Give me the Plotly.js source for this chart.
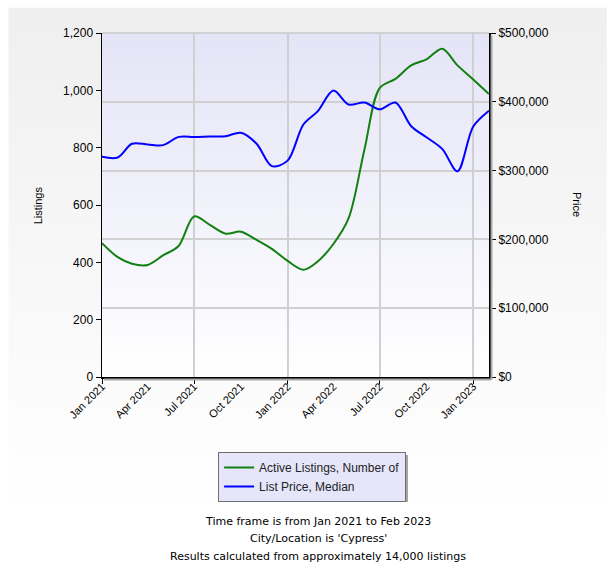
<!DOCTYPE html>
<html>
<head>
<meta charset="utf-8">
<script src="https://cdn.plot.ly/plotly-3.0.1.min.js"></script>
<style>
  body { margin: 0; background: #ffffff; }
  #chart { width: 614px; height: 583px; }
</style>
</head>
<body>
<div id="chart"></div>
<script>
// Dados mensais, Jan 2021 - Feb 2023
const months = [
    '2021-01-01', '2021-02-01', '2021-03-01', '2021-04-01', '2021-05-01', '2021-06-01',
    '2021-07-01', '2021-08-01', '2021-09-01', '2021-10-01', '2021-11-01', '2021-12-01',
    '2022-01-01', '2022-02-01', '2022-03-01', '2022-04-01', '2022-05-01', '2022-06-01',
    '2022-07-01', '2022-08-01', '2022-09-01', '2022-10-01', '2022-11-01', '2022-12-01',
    '2023-01-01', '2023-02-01'
];

const activeListings = [
    467, 418, 395, 391, 424, 458, 560, 531, 500, 507, 478, 447,
    405, 374, 403, 464, 554, 793, 1008, 1040, 1087, 1108, 1145, 1087,
    1038, 987
];

const listPrice = [
    320000, 319000, 339000, 338000, 337000, 349000, 349000, 349500, 349900, 355000, 339000, 306500,
    314500, 367000, 386000, 416500, 396000, 399000, 389000, 399000, 364500, 348500, 331500, 299000,
    364000, 387000
];

const seriesNames = ['Active Listings, Number of', 'List Price, Median'];
const footerLines = [
    'Time frame is from Jan 2021 to Feb 2023',
    "City/Location is 'Cypress'",
    'Results calculated from approximately 14,000 listings'
];

// fundos com gradiente (svg inline)
function gradientSvg(top, bottom) {
    const svg = '<svg xmlns="http://www.w3.org/2000/svg" width="10" height="100" preserveAspectRatio="none">' +
        '<defs><linearGradient id="g" x1="0" y1="0" x2="0" y2="1">' +
        '<stop offset="0" stop-color="' + top + '"/><stop offset="1" stop-color="' + bottom + '"/>' +
        '</linearGradient></defs><rect width="10" height="100" fill="url(#g)"/></svg>';
    return 'data:image/svg+xml;charset=utf-8,' + encodeURIComponent(svg);
}

const data = [{
    x: months,
    y: activeListings,
    name: seriesNames[0],
    type: 'scatter',
    mode: 'lines',
    line: { color: '#118011', width: 2, shape: 'spline', smoothing: 0.9 },
    xaxis: 'x',
    yaxis: 'y'
}, {
    x: months,
    y: listPrice,
    name: seriesNames[1],
    type: 'scatter',
    mode: 'lines',
    line: { color: '#0000ff', width: 2, shape: 'spline', smoothing: 0.9 },
    xaxis: 'x2',
    yaxis: 'y2'
}];

const labelFont = { family: 'Liberation Sans, Arial, sans-serif', size: 12, color: '#000000' };

const layout = {
    width: 614,
    height: 583,
    margin: { l: 102, r: 125, t: 33, b: 206 },
    paper_bgcolor: '#ffffff',
    plot_bgcolor: 'rgba(0,0,0,0)',
    showlegend: true,
    legend: {
        x: 0.300, y: -0.218, xanchor: 'left', yanchor: 'top',
        bgcolor: '#e6e6fa', bordercolor: '#6e6e6e', borderwidth: 1,
        font: { family: 'Liberation Sans, Arial, sans-serif', size: 12, color: '#222222' },
        itemwidth: 30, tracegroupgap: 0
    },
    xaxis: {
        type: 'date',
        range: ['2021-01-01', '2023-02-01'],
        tick0: '2021-01-01',
        dtick: 'M3',
        tickformat: '%b %Y',
        tickangle: -45,
        tickfont: { family: 'Liberation Sans, Arial, sans-serif', size: 11, color: '#000000' },
        ticks: '',
        showgrid: false,
        showline: false,
        zeroline: false
    },
    xaxis2: {
        type: 'date',
        overlaying: 'x',
        anchor: 'y',
        side: 'bottom',
        range: ['2021-01-01', '2023-02-01'],
        tick0: '2021-01-01',
        dtick: 'M6',
        ticks: 'outside',
        ticklen: 5,
        tickcolor: '#000000',
        showticklabels: false,
        showgrid: true,
        gridcolor: '#d0d0d0',
        gridwidth: 2,
        showline: true,
        linecolor: '#000000',
        linewidth: 2,
        zeroline: false
    },
    yaxis: {
        range: [0, 1200],
        dtick: 200,
        tickformat: ',',
        ticks: 'outside',
        ticklen: 5,
        tickcolor: '#000000',
        tickfont: labelFont,
        showgrid: false,
        showline: true,
        linecolor: '#000000',
        linewidth: 1.5,
        zeroline: false
    },
    yaxis2: {
        overlaying: 'y',
        side: 'right',
        anchor: 'x',
        range: [0, 500000],
        dtick: 100000,
        tickprefix: '$',
        tickformat: ',',
        ticks: 'outside',
        ticklen: 5,
        tickcolor: '#000000',
        tickfont: labelFont,
        showgrid: true,
        gridcolor: '#d0d0d0',
        gridwidth: 2,
        showline: true,
        linecolor: '#000000',
        linewidth: 2,
        zeroline: false
    },
    images: [{
        source: gradientSvg('#efefef', '#ffffff'),
        xref: 'paper', yref: 'paper',
        x: -0.242, y: 1.0742, sizex: 1.5467, sizey: 1.45,
        sizing: 'stretch', layer: 'below', xanchor: 'left', yanchor: 'top'
    }, {
        source: gradientSvg('#e4e4f7', '#ffffff'),
        xref: 'paper', yref: 'paper',
        x: 0, y: 1, sizex: 1, sizey: 1,
        sizing: 'stretch', layer: 'below', xanchor: 'left', yanchor: 'top'
    }],
    shapes: [{
        // borda superior da área do gráfico
        type: 'line', xref: 'paper', yref: 'paper',
        x0: 0, x1: 1, y0: 1, y1: 1,
        line: { color: '#c8c8c8', width: 1.5 }, layer: 'below'
    }, {
        // sombra do eixo inferior
        type: 'line', xref: 'paper', yref: 'paper',
        x0: 0.005, x1: 1.006, y0: -0.0075, y1: -0.0075,
        line: { color: '#a8a8a8', width: 2 }
    }, {
        // sombra do eixo direito
        type: 'line', xref: 'paper', yref: 'paper',
        x0: 1.0065, x1: 1.0065, y0: -0.0075, y1: 0.993,
        line: { color: '#a8a8a8', width: 2 }
    }, {
        // sombra da legenda
        type: 'rect', xref: 'paper', yref: 'paper',
        x0: 0.308, x1: 0.7905, y0: -0.3635, y1: -0.2265,
        line: { width: 0 }, fillcolor: '#a0a0a0'
    }],
    annotations: [{
        text: 'Listings', xref: 'paper', yref: 'paper', x: -0.1645, y: 0.5,
        xanchor: 'center', yanchor: 'middle',
        textangle: -90, showarrow: false,
        font: { family: 'Liberation Sans, Arial, sans-serif', size: 11, color: '#000000' }
    }, {
        text: 'Price', xref: 'paper', yref: 'paper', x: 1.2273, y: 0.5,
        xanchor: 'center', yanchor: 'middle',
        textangle: 90, showarrow: false,
        font: { family: 'Liberation Sans, Arial, sans-serif', size: 11, color: '#000000' }
    }].concat(footerLines.map((line, i) => ({
        text: line, xref: 'paper', yref: 'paper',
        x: 0.5585, y: [-0.419, -0.469, -0.521][i],
        xanchor: 'center', yanchor: 'middle',
        showarrow: false,
        font: { family: 'DejaVu Sans, Verdana, sans-serif', size: 11, color: '#000000' }
    })))
};

Plotly.newPlot('chart', data, layout, { displayModeBar: false, staticPlot: true });
</script>
</body>
</html>
